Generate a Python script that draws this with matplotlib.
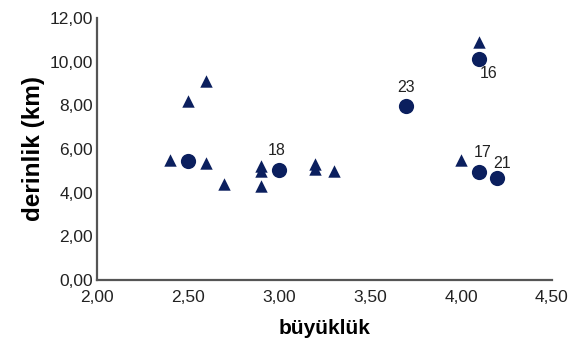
import matplotlib
matplotlib.use('Agg')
import matplotlib.pyplot as plt
from matplotlib.ticker import FuncFormatter

plt.rcParams['font.family'] = ['Liberation Sans', 'DejaVu Sans']

# triangle points (magnitude, depth)
tri_x = [2.40, 2.50, 2.60, 2.60, 2.70, 2.90, 2.90, 2.90, 3.20, 3.20, 3.30, 4.00, 4.10]
tri_y = [5.5, 8.2, 9.1, 5.35, 4.4, 5.2, 5.0, 4.3, 5.3, 5.1, 5.0, 5.5, 10.9]

# circle points with labels
circ_x = [2.50, 3.00, 3.70, 4.10, 4.10, 4.20]
circ_y = [5.45, 5.05, 7.95, 10.1, 4.95, 4.65]
circ_lab = ['', '18', '23', '16', '17', '21']
# label offsets in pixels
lab_off = [(0, 0), (-2, 19), (0, 19), (9, -14), (3, 19), (5, 15)]

navy = '#0b1f5e'

fig = plt.figure(figsize=(5.78, 3.44), dpi=100)
ax = fig.add_axes([0.168, 0.186, 0.787, 0.762])

ax.scatter(tri_x, tri_y, marker='^', s=80, color=navy, zorder=3, linewidths=0)
ax.scatter(circ_x, circ_y, marker='o', s=120, color=navy, zorder=3, linewidths=0)
for x, y, t, (dx, dy) in zip(circ_x, circ_y, circ_lab, lab_off):
    if t:
        ax.annotate(t, (x, y), xytext=(dx, dy), textcoords='offset pixels',
                    ha='center', va='center', fontsize=11.5, color='#222222')

ax.set_xlim(2.0, 4.5)
ax.set_ylim(0, 12)
ax.set_xticks([2.0, 2.5, 3.0, 3.5, 4.0, 4.5])
ax.set_yticks([0, 2, 4, 6, 8, 10, 12])
fmt = FuncFormatter(lambda v, p: ('%.2f' % v).replace('.', ','))
ax.xaxis.set_major_formatter(fmt)
ax.yaxis.set_major_formatter(fmt)
ax.tick_params(length=0, labelsize=12.5, colors='#222222')
ax.tick_params(axis='x', pad=7)
ax.tick_params(axis='y', pad=3)

for s in ['top', 'right']:
    ax.spines[s].set_visible(False)
for s in ['left', 'bottom']:
    ax.spines[s].set_color('#555555')
    ax.spines[s].set_linewidth(1.6)

ax.set_xlabel('büyüklük', fontsize=15, fontweight='bold', labelpad=10)
ax.set_ylabel('derinlik (km)', fontsize=17.5, fontweight='bold', labelpad=3)

fig.savefig('out.png', dpi=100)
